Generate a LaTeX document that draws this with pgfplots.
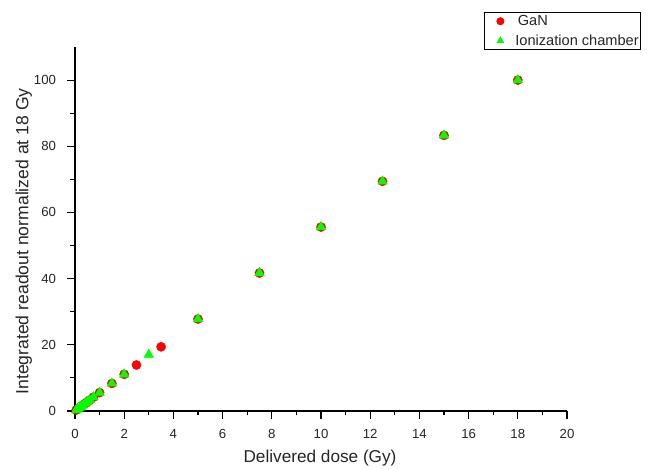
\documentclass[border=0pt]{standalone}
\usepackage{pgfplots}
\pgfplotsset{compat=1.18}
\usepackage{fontspec}
\setmainfont{Liberation Sans}
\definecolor{gred}{RGB}{255,0,0}
\definecolor{ggreen}{RGB}{0,255,0}
\newcommand{\tickfont}{\fontsize{13.2bp}{15bp}\selectfont}
\begin{document}
\begin{tikzpicture}
\begin{axis}[
  name=ax,
  at={(0,0)}, anchor=south west,
  scale only axis,
  width=492bp, height=364bp,
  xmin=0, xmax=20, ymin=0, ymax=110,
  axis x line*=bottom, axis y line*=left,
  axis line style={line width=1.1bp, black, -},
  xtick={0,2,...,20}, ytick={0,20,...,100},
  minor x tick num=1, minor y tick num=1,
  tick align=outside,
  major tick length=8bp, minor tick length=4.5bp,
  every tick/.style={black, line width=1.1bp},
  /pgf/number format/assume math mode=true,
  xticklabel={\tickfont\pgfmathprintnumber{\tick}},
  yticklabel={\tickfont\pgfmathprintnumber{\tick}},
  tick label style={text=black!85},
  xticklabel style={yshift=-7bp},
  yticklabel style={xshift=-7.5bp},
  xlabel={Delivered dose (Gy)},
  ylabel={Integrated readout normalized at 18 Gy},
  label style={font=\fontsize{17.2bp}{19bp}\selectfont, text=black!85},
  xlabel style={at={(axis description cs:0.498,-0.129)}, anchor=center},
  ylabel style={font=\fontsize{17.6bp}{19bp}\selectfont, at={(axis description cs:-0.104,0.466)}, anchor=center},
  legend style={at={(axis description cs:0.8313,1.0962)}, anchor=north west,
    draw=black, line width=0.8bp, font=\fontsize{14.6bp}{16bp}\selectfont,
    inner xsep=0bp, inner ysep=1bp, row sep=3.5bp, text=black!85},
  legend cell align=left,
  legend image code/.code={%
    \path[draw=none, fill=none] (-16bp,0bp) -- (13bp,0bp);
    \draw[#1, mark size=3.6bp] plot coordinates {(0bp,0bp)};},
  clip=false,
]
\addplot[only marks, mark=*, mark size=4.6bp, color=gred, mark options={draw=gred, fill=gred}] coordinates {
(0.05,0.28) (0.1,0.56) (0.15,0.83) (0.2,1.11) (0.25,1.39) (0.3,1.67) (0.4,2.22)
(0.5,2.78) (0.6,3.33) (0.75,4.17) (1,5.56) (1.5,8.33) (2,11.1) (2.5,13.9)
(3.5,19.4) (5,27.8) (7.5,41.7) (10,55.6) (12.5,69.4) (15,83.3) (18,100)
};
\addlegendentry{\,GaN}
\addplot[only marks, mark=triangle*, mark size=5.6bp, color=ggreen, mark options={draw=ggreen, fill=ggreen}] coordinates {
(0.05,0.28) (0.1,0.56) (0.15,0.83) (0.2,1.11) (0.25,1.39) (0.3,1.67) (0.4,2.22)
(0.5,2.78) (0.6,3.33) (0.75,4.17) (1,5.56) (1.5,8.33) (2,11.1) (3,17.0)
(5,27.8) (7.5,41.7) (10,55.6) (12.5,69.4) (15,83.3) (18,100)
};
\addlegendentry{Ionization chamber}
\end{axis}
\path[use as bounding box] ([xshift=-75bp,yshift=-57bp]ax.south west) rectangle ([xshift=578bp,yshift=411bp]ax.south west);
\end{tikzpicture}
\end{document}
